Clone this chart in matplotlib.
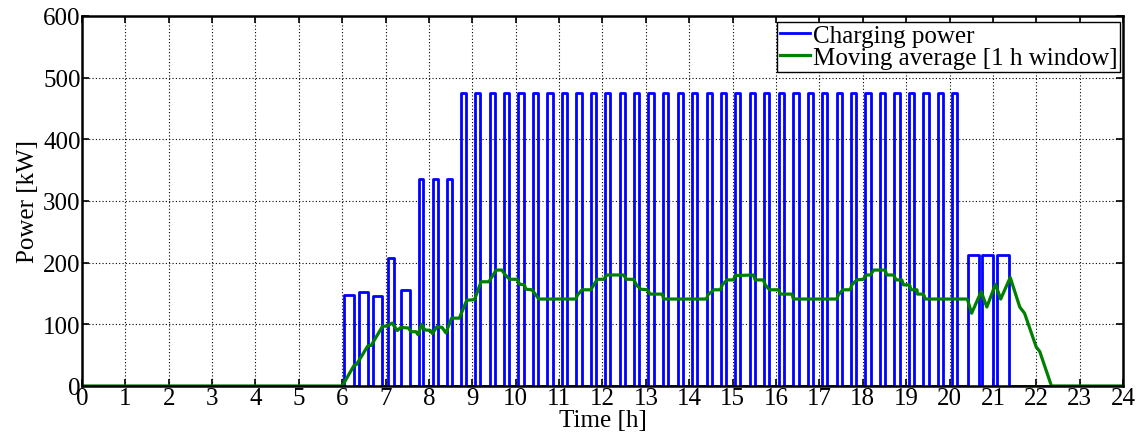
import matplotlib.pyplot as plt
import numpy as np

plt.rcParams['font.family'] = ['Liberation Serif', 'DejaVu Serif']

# charging pulses: start time [h], duration [h], power [kW]
pulse_start = [6.04, 6.38, 6.71, 7.06, 7.35, 7.76, 8.09, 8.42,
               8.73, 9.06, 9.40, 9.73, 10.06, 10.40, 10.73, 11.06, 11.40, 11.73,
               12.06, 12.40, 12.73, 13.06, 13.40, 13.73, 14.06, 14.40, 14.73,
               15.06, 15.40, 15.73, 16.06, 16.40, 16.73, 17.06, 17.40, 17.73,
               18.06, 18.40, 18.73, 19.06, 19.40, 19.73, 20.06,
               20.42, 20.74, 21.09]
pulse_len = [0.22, 0.22, 0.21, 0.13, 0.21, 0.11, 0.11, 0.12,
             0.12, 0.12, 0.12, 0.12, 0.12, 0.12, 0.12, 0.12, 0.12, 0.12,
             0.12, 0.12, 0.12, 0.12, 0.12, 0.12, 0.12, 0.12, 0.12,
             0.12, 0.12, 0.12, 0.12, 0.12, 0.12, 0.12, 0.12, 0.12,
             0.12, 0.12, 0.12, 0.12, 0.12, 0.12, 0.12,
             0.27, 0.27, 0.28]
pulse_kw = [147, 152, 146, 207, 155, 335, 335, 335,
            475, 475, 475, 475, 475, 475, 475, 475, 475, 475,
            475, 475, 475, 475, 475, 475, 475, 475, 475,
            475, 475, 475, 475, 475, 475, 475, 475, 475,
            475, 475, 475, 475, 475, 475, 475,
            213, 213, 213]

# moving average [1 h window]
avg_t = [0, 6.00, 6.27, 6.33, 6.59, 6.67, 6.93, 7.03, 7.15, 7.27, 7.35, 7.53, 7.58,
         7.70, 7.75, 7.83, 7.90, 8.03, 8.08, 8.18, 8.30, 8.39, 8.52, 8.70, 8.87,
         9.05, 9.20, 9.38, 9.55, 9.68, 9.76, 9.86, 10.03, 10.09, 10.20, 10.23,
         10.37, 10.45, 10.53, 11.38, 11.43, 11.53, 11.73, 11.80, 11.88, 12.03,
         12.10, 12.49, 12.55, 12.72, 12.78, 12.88, 13.03, 13.10, 13.38, 13.41,
         14.40, 14.43, 14.57, 14.72, 14.76, 14.87, 15.02, 15.06, 15.48, 15.52,
         15.71, 15.75, 15.85, 16.06, 16.10, 16.37, 16.40, 17.40, 17.44, 17.54,
         17.71, 17.75, 17.86, 18.01, 18.09, 18.18, 18.25, 18.52, 18.55, 18.71,
         18.77, 18.90, 18.94, 19.08, 19.11, 19.25, 19.26, 19.40, 19.44, 20.41,
         20.51, 20.73, 20.86, 21.06, 21.18, 21.40, 21.62, 21.73, 22.00, 22.08,
         22.35, 24]
avg_kw = [0, 0, 33, 35, 65, 66, 97, 97, 102, 90, 95, 94, 88,
          88, 83, 100, 91, 90, 85, 96, 95, 86, 110, 110, 139,
          140, 169, 169, 188, 188, 180, 173, 173, 165, 164, 157,
          156, 149, 141, 141, 148, 156, 156, 164, 173, 173,
          180, 180, 173, 173, 164, 157, 156, 149, 149, 141,
          141, 148, 156, 156, 164, 172, 172, 179, 180, 172,
          172, 164, 156, 156, 149, 149, 141, 141, 148, 156,
          156, 164, 172, 173, 180, 180, 188, 188, 180, 180,
          172, 172, 164, 164, 156, 156, 149, 149, 141, 141,
          118, 153, 128, 165, 141, 176, 128, 118, 63, 56,
          0, 0]

# build the step curve of the charging power
t_pw = [0.0]
p_pw = [0.0]
for s, d, p in zip(pulse_start, pulse_len, pulse_kw):
    t_pw += [s, s, s + d, s + d]
    p_pw += [0, p, p, 0]
t_pw.append(24.0)
p_pw.append(0.0)

fig = plt.figure(figsize=(11.37, 4.39), dpi=100)
ax = fig.add_axes([0.0721, 0.1185, 0.9156, 0.8428])

ax.plot(t_pw, p_pw, color='#0000ff', lw=2.0, label='Charging power')
ax.plot(avg_t, avg_kw, color='#008000', lw=2.3, label='Moving average [1 h window]')

ax.set_xlim(0, 24)
ax.set_ylim(0, 600)
ax.set_xticks(range(0, 25))
ax.set_yticks(range(0, 601, 100))
ax.grid(True, color='black', linestyle=(0, (1, 2)), linewidth=0.8)
ax.tick_params(direction='in', top=True, right=True, length=5, width=1.2,
               labelsize=18, pad=1)
for sp in ax.spines.values():
    sp.set_linewidth(1.8)

ax.set_xlabel('Time [h]', fontsize=18, labelpad=0)
ax.set_ylabel('Power [kW]', fontsize=18, labelpad=3)

leg = ax.legend(loc='upper right', bbox_to_anchor=(0.997, 0.985), fontsize=18,
                fancybox=False, framealpha=1, edgecolor='black',
                handlelength=1.2, handletextpad=0.12, borderpad=0.1,
                labelspacing=0.0, borderaxespad=0)
leg.get_frame().set_linewidth(1.0)

fig.savefig('out.png', dpi=100)
